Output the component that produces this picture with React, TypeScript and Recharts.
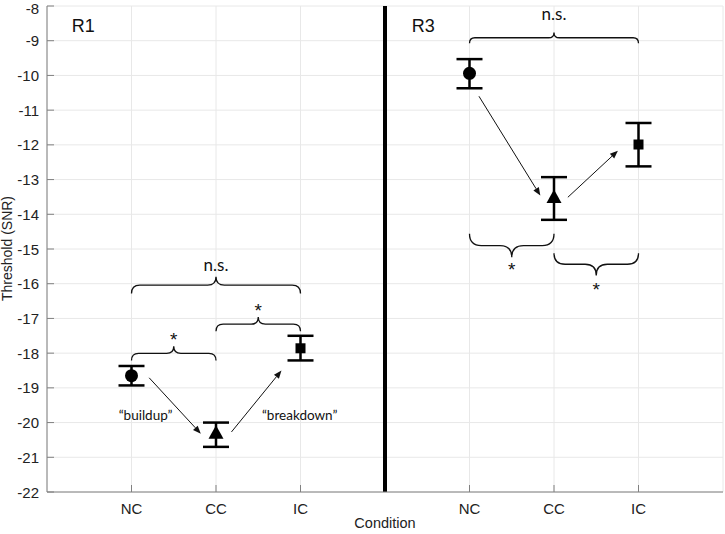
import React from 'react';
import {
  ComposedChart,
  Scatter,
  ErrorBar,
  XAxis,
  YAxis,
  CartesianGrid,
  ReferenceLine,
  ReferenceArea,
  ReferenceDot,
  Label,
} from 'recharts';

// ---- Data ----
const xTicks = [1, 2, 3, 5, 6, 7];
const xTickLabels = ['NC', 'CC', 'IC', 'NC', 'CC', 'IC'];
const yTicks = [-8, -9, -10, -11, -12, -13, -14, -15, -16, -17, -18, -19, -20, -21, -22];

const ncX = [1, 5];
const ncMean = [-18.65, -9.94];
const ncUpper = [-18.37, -9.53];
const ncLower = [-18.93, -10.37];

const ccX = [2, 6];
const ccMean = [-20.31, -13.52];
const ccUpper = [-20.0, -12.93];
const ccLower = [-20.7, -14.16];

const icX = [3, 7];
const icMean = [-17.86, -11.99];
const icUpper = [-17.5, -11.37];
const icLower = [-18.21, -12.62];

// braces: x range, foot y, tip y
const braceX1 = [1, 2, 1, 5, 5, 6];
const braceX2 = [2, 3, 3, 7, 6, 7];
const braceFoot = [-18.21, -17.37, -16.28, -9.07, -14.56, -15.12];
const braceTip = [-17.8, -16.96, -15.8, -8.76, -15.24, -15.76];

// arrows
const arrowX1 = [1.209, 2.183, 5.112, 6.164];
const arrowY1 = [-18.71, -20.27, -10.6, -13.51];
const arrowX2 = [1.82, 2.775, 5.838, 6.756];
const arrowY2 = [-20.32, -18.5, -13.46, -12.17];

// text annotations
const annText = ['R1', 'R3', 'n.s.', '*', '*', 'n.s.', '*', '*', '\u201Cbuildup\u201D', '\u201Cbreakdown\u201D'];
const annX = [0.428, 4.454, 2.0, 2.5, 1.5, 6.0, 5.5, 6.5, 1.166, 2.99];
const annY = [-8.55, -8.55, -15.47, -16.66, -17.5, -8.25, -15.5, -16.07, -19.79, -19.79];
const annKind = ['panel', 'panel', 'ns', 'star', 'star', 'ns', 'star', 'star', 'note', 'note'];

const build = (xs: number[], m: number[], u: number[], l: number[]) =>
  xs.map((x, i) => ({ x, y: m[i], err: [m[i] - l[i], u[i] - m[i]] }));

const ncData = build(ncX, ncMean, ncUpper, ncLower);
const ccData = build(ccX, ccMean, ccUpper, ccLower);
const icData = build(icX, icMean, icUpper, icLower);

const AXIS = '#808080';
const TXT = '#222222';
const TICK_FONT = '"Liberation Sans", Arial, sans-serif';
const NOTE_FONT = 'Lato, "Open Sans", sans-serif';

const YTick = (props: any) => {
  const { x, y, payload } = props;
  const ty = y < 14 ? y + 8 : y + 5.5;
  return (
    <g>
      <line x1={x + 7} x2={x + 14} y1={y} y2={y} stroke={AXIS} strokeWidth={1} />
      <text x={x - 1} y={ty} textAnchor="end" fill={TXT} fontSize={15} fontFamily={TICK_FONT}>
        {payload.value}
      </text>
    </g>
  );
};

const XTick = (props: any) => {
  const { x, y, payload } = props;
  const idx = xTicks.indexOf(payload.value);
  return (
    <g>
      <line x1={x} x2={x} y1={y - 7} y2={y - 14} stroke={AXIS} strokeWidth={1} />
      <text x={x} y={y + 15} textAnchor="middle" fill={TXT} fontSize={15} fontFamily={TICK_FONT}>
        {idx >= 0 ? xTickLabels[idx] : ''}
      </text>
    </g>
  );
};

const CircleMark = (p: any) => <circle cx={p.cx} cy={p.cy} r={6.5} fill="#000" />;
const TriMark = (p: any) => (
  <polygon
    points={`${p.cx},${p.cy - 8} ${p.cx - 7.5},${p.cy + 5.5} ${p.cx + 7.5},${p.cy + 5.5}`}
    fill="#000"
  />
);
const SquareMark = (p: any) => <rect x={p.cx - 5} y={p.cy - 5} width={10} height={10} fill="#000" />;

const makeBrace = (up: boolean) => (p: any) => {
  const { x, y, width, height } = p;
  const x1 = x;
  const x2 = x + width;
  const xm = x + width / 2;
  const yTip = up ? y : y + height;
  const yFoot = up ? y + height : y;
  const yLine = (yTip + yFoot) / 2;
  const r = Math.abs(yFoot - yLine);
  const s = up ? -1 : 1;
  const d = [
    `M${x1},${yFoot}`,
    `Q${x1},${yLine} ${x1 + r},${yLine}`,
    `L${xm - r},${yLine}`,
    `Q${xm},${yLine} ${xm},${yLine + s * r}`,
    `Q${xm},${yLine} ${xm + r},${yLine}`,
    `L${x2 - r},${yLine}`,
    `Q${x2},${yLine} ${x2},${yFoot}`,
  ].join(' ');
  return <path d={d} fill="none" stroke="#111" strokeWidth={1.3} />;
};

const ArrowShape = (p: any) => {
  const { x1, y1, x2, y2 } = p;
  const ang = Math.atan2(y2 - y1, x2 - x1);
  const L = 8;
  const W = 3.2;
  const bx = x2 - L * Math.cos(ang);
  const by = y2 - L * Math.sin(ang);
  const px = -Math.sin(ang) * W;
  const py = Math.cos(ang) * W;
  return (
    <g>
      <line x1={x1} y1={y1} x2={bx} y2={by} stroke="#111" strokeWidth={1} />
      <polygon points={`${x2},${y2} ${bx + px},${by + py} ${bx - px},${by - py}`} fill="#111" />
    </g>
  );
};

const makeText = (text: string, kind: string) => (p: any) => {
  const style: Record<string, any> = {
    panel: { fontSize: 18, fontFamily: TICK_FONT },
    ns: { fontSize: 17, fontFamily: NOTE_FONT },
    star: { fontSize: 19, fontFamily: TICK_FONT },
    note: { fontSize: 13.5, fontFamily: NOTE_FONT },
  }[kind];
  const dy = kind === 'star' ? 10 : kind === 'panel' ? 6.5 : kind === 'ns' ? 5.5 : 4.5;
  return (
    <text x={p.cx} y={p.cy + dy} textAnchor="middle" fill="#111" {...style}>
      {text}
    </text>
  );
};

const YLabel = () => {
  const cy = 248.5;
  return (
    <text
      x={12}
      y={cy}
      transform={`rotate(-90, 12, ${cy})`}
      textAnchor="middle"
      fill={TXT}
      fontSize={14}
      fontFamily={TICK_FONT}
    >
      Threshold (SNR)
    </text>
  );
};

const XLabel = (props: any) => {
  const vb = props.viewBox || {};
  const cx = (vb.x ?? 47) + (vb.width ?? 676) / 2;
  return (
    <text x={cx} y={528} textAnchor="middle" fill={TXT} fontSize={14.5} fontFamily={TICK_FONT}>
      Condition
    </text>
  );
};

export default function App() {
  return (
    <div style={{ position: 'absolute', left: 0, top: 0, width: 725, height: 534, background: '#fff' }}>
      <ComposedChart width={725} height={534} margin={{ top: 6, right: 2, bottom: 12, left: 6 }}>
        <CartesianGrid stroke="#e8e8e8" strokeWidth={1} />
        <XAxis
          type="number"
          dataKey="x"
          domain={[0, 8]}
          ticks={xTicks}
          allowDataOverflow
          height={30}
          stroke={AXIS}
          tickLine={false}
          tickSize={7}
          tickMargin={0}
          tick={<XTick />}
          interval={0}
        >
          <Label content={<XLabel />} />
        </XAxis>
        <YAxis
          type="number"
          dataKey="y"
          domain={[-22, -8]}
          ticks={yTicks}
          allowDataOverflow
          width={41}
          stroke={AXIS}
          tickLine={false}
          tickSize={7}
          tickMargin={0}
          tick={<YTick />}
          interval={0}
        >
          <Label content={<YLabel />} />
        </YAxis>

        <ReferenceLine x={4} stroke="#000" strokeWidth={4} />

        {braceX1.map((bx, i) => (
          <ReferenceArea
            key={`b${i}`}
            x1={bx}
            x2={braceX2[i]}
            y1={braceFoot[i]}
            y2={braceTip[i]}
            shape={makeBrace(braceTip[i] > braceFoot[i])}
          />
        ))}

        {arrowX1.map((ax, i) => (
          <ReferenceLine
            key={`a${i}`}
            segment={[
              { x: ax, y: arrowY1[i] },
              { x: arrowX2[i], y: arrowY2[i] },
            ]}
            shape={ArrowShape}
          />
        ))}

        {annText.map((t, i) => (
          <ReferenceDot key={`t${i}`} x={annX[i]} y={annY[i]} r={0} shape={makeText(t, annKind[i])} />
        ))}

        <Scatter data={ncData} dataKey="y" shape={CircleMark} isAnimationActive={false}>
          <ErrorBar dataKey="err" direction="y" width={13} stroke="#000" strokeWidth={2.5} isAnimationActive={false} />
        </Scatter>
        <Scatter data={ccData} dataKey="y" shape={TriMark} isAnimationActive={false}>
          <ErrorBar dataKey="err" direction="y" width={13} stroke="#000" strokeWidth={2.5} isAnimationActive={false} />
        </Scatter>
        <Scatter data={icData} dataKey="y" shape={SquareMark} isAnimationActive={false}>
          <ErrorBar dataKey="err" direction="y" width={13} stroke="#000" strokeWidth={2.5} isAnimationActive={false} />
        </Scatter>
      </ComposedChart>
    </div>
  );
}
